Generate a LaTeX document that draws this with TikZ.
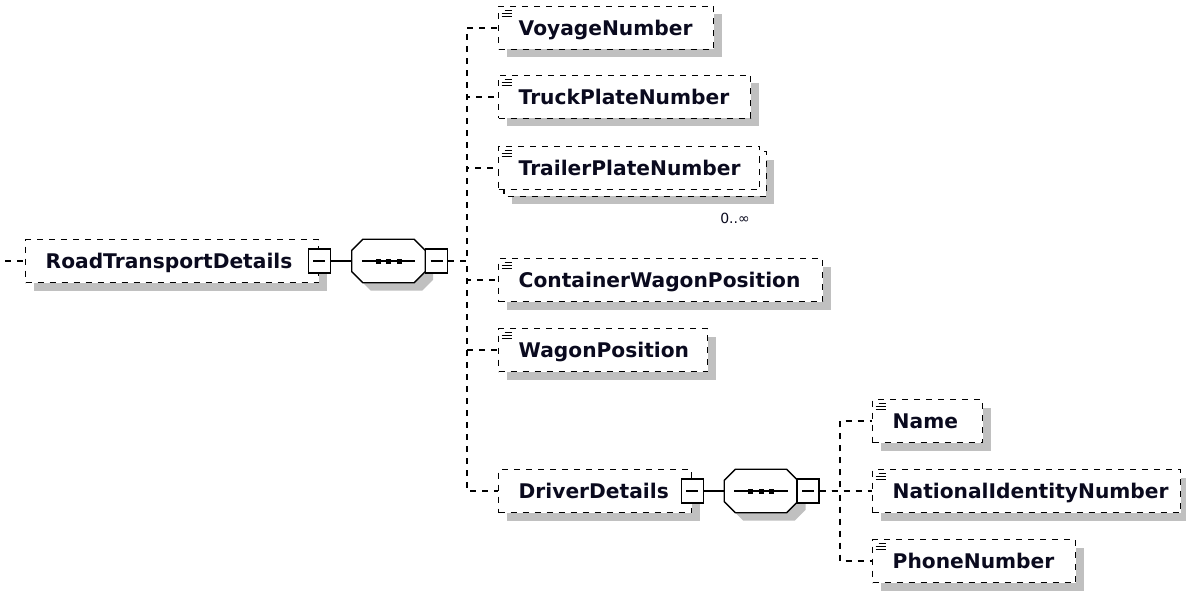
\documentclass[tikz,border=0pt]{standalone}
\usepackage{fontspec}
\setmainfont{DejaVu Sans}
\usetikzlibrary{shadows,backgrounds,calc}
\definecolor{shadowgray}{RGB}{192,192,192}
\definecolor{txt}{RGB}{10,10,30}
\tikzset{
  conn/.style={line width=1.4pt, dash pattern=on 6pt off 6pt},
  solidconn/.style={line width=1.3pt, solid},
  boxshadow/.style={general shadow={fill=shadowgray, shadow xshift=8pt, shadow yshift=-8pt}},
  elem/.style={draw, line width=1.4pt, dash pattern=on 6pt off 6pt, fill=white, anchor=west,
    minimum height=43pt, inner xsep=20pt, inner ysep=0pt, align=left,
    text height=15pt, text depth=0pt, font=\bfseries\fontsize{20.2}{24}\selectfont, text=txt},
  simple/.style={path picture={
    \draw[solid, line width=1.2pt] ([shift={(6,4)}]path picture bounding box.north west) -- ++(7,0);
    \draw[solid, line width=1.2pt] ([shift={(3,7)}]path picture bounding box.north west) -- ++(10,0);
    \draw[solid, line width=1.2pt] ([shift={(3,10)}]path picture bounding box.north west) -- ++(10,0);
  }},
  minusbox/.style={draw, solid, line width=1.3pt, fill=white, minimum width=22pt, minimum height=24pt,
    inner sep=0pt, path picture={
    \draw[solid, line width=1.3pt] ([xshift=5pt]path picture bounding box.west) -- ([xshift=-5pt]path picture bounding box.east);}},
  seqbox/.style={minimum width=73pt, minimum height=43pt, inner sep=0pt},
  multtext/.style={font=\fontsize{14}{16}\selectfont, text=txt, inner sep=0pt}
}
\newcommand\seqoct[1]{%
  \draw[solidconn, fill=white, boxshadow] ([xshift=11pt]#1.north west) -- ([xshift=-11pt]#1.north east)
    -- ([yshift=-11pt]#1.north east) -- ([yshift=11pt]#1.south east)
    -- ([xshift=-11pt]#1.south east) -- ([xshift=11pt]#1.south west)
    -- ([yshift=11pt]#1.south west) -- ([yshift=-11pt]#1.north west) -- cycle;
  \draw[solidconn] ([xshift=10pt]#1.west) -- ([xshift=-10pt]#1.east);
  \foreach \dx in {-10.5,0,10.5}{
    \fill ([xshift=\dx pt]#1.center) +(-2.5,-2.5) rectangle +(2.5,2.5);}
}
\begin{document}
\begin{tikzpicture}[x=1pt,y=-1pt]
\begin{scope}[on background layer]
\fill[white] (0,0) rectangle (1186,591);
\end{scope}
\useasboundingbox (0,0) rectangle (1186,591);

% root
\coordinate (in) at (5,261);
\node[elem, boxshadow, text width=253pt] (root) at (25,261) {RoadTransportDetails};
\node[minusbox] (rootm) at (root.east) {};
\node[seqbox] (s1) at (388.5,261) {};
\seqoct{s1}
\node[minusbox] (s1m) at (436.5,261) {};
\coordinate (j1) at (467,261);

% children
\node[elem, boxshadow, simple, text width=175pt] (voy) at (498,28) {VoyageNumber};
\node[elem, boxshadow, simple, text width=212pt] (truck) at (498,97) {TruckPlateNumber};
\node[elem, simple, text width=221pt] (trl) at (498,168) {TrailerPlateNumber};
\begin{scope}[on background layer]
\draw[conn, fill=white, boxshadow] ([shift={(6,6)}]trl.north west) rectangle ([shift={(6,6)}]trl.south east);
\end{scope}
\node[multtext] (mult) at (735,218) {0..∞};
\node[elem, boxshadow, simple, text width=284pt] (cwp) at (498,280) {ContainerWagonPosition};
\node[elem, boxshadow, simple, text width=169pt] (wp) at (498,350) {WagonPosition};
\node[elem, boxshadow, text width=153pt] (drv) at (498,491) {DriverDetails};
\node[minusbox] (drvm) at (drv.east) {};
\node[seqbox] (s2) at (761,491) {};
\seqoct{s2}
\node[minusbox] (s2m) at (808,491) {};
\coordinate (j2) at (840,491);

\node[elem, boxshadow, simple, text width=70pt] (name) at (872,421) {Name};
\node[elem, boxshadow, simple, text width=268pt] (nin) at (872,491) {NationalIdentityNumber};
\node[elem, boxshadow, simple, text width=163pt] (phone) at (872,561) {PhoneNumber};

% connectors
\draw[conn] (in) -- (root.west);
\draw[solidconn] (rootm.east) -- (s1.west);
\foreach \c in {voy,truck,trl,cwp,wp,drv}
  \draw[conn] (s1m.east) -- (j1) |- (\c.west);
\draw[solidconn] (drvm.east) -- (s2.west);
\foreach \c in {name,nin,phone}
  \draw[conn] (s2m.east) -- (j2) |- (\c.west);
\end{tikzpicture}
\end{document}
